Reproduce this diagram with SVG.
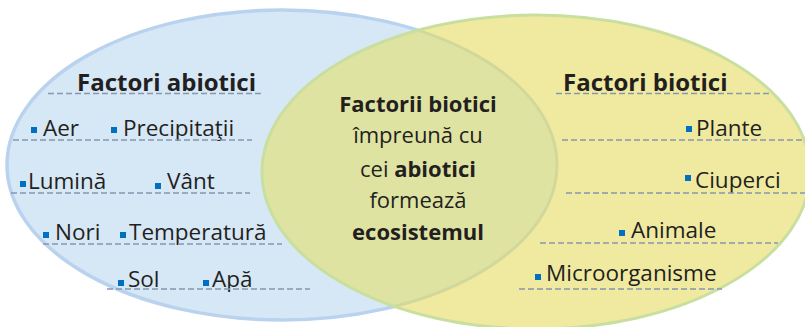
<svg xmlns="http://www.w3.org/2000/svg" width="805" height="327" viewBox="0 0 805 327">
<style>
.t{font-family:"Open Sans","Liberation Sans",sans-serif;fill:#231f20;font-size:22.5px}
.h{font-family:"Open Sans","Liberation Sans",sans-serif;fill:#231f20;font-size:24px;font-weight:bold}
.c{font-family:"Open Sans","Liberation Sans",sans-serif;fill:#231f20;font-size:22px;text-anchor:middle}
.b{font-weight:bold}
.d{stroke:#8797b0;stroke-width:1.3;stroke-dasharray:6 3;fill:none}
.q{fill:#0070c0}
</style>
<defs>
<clipPath id="yc"><ellipse cx="536" cy="172" rx="274" ry="157"/></clipPath>
</defs>
<g id="circles">
<ellipse id="abiotic-area" cx="282" cy="165" rx="275" ry="155" fill="#d6e7f6" stroke="#b9d3ee" stroke-width="3.5"/>
<ellipse id="biotic-area" cx="536" cy="172" rx="274" ry="157" fill="#f0eaa0"/>
<ellipse id="overlap" cx="282" cy="165" rx="275" ry="155" fill="#dfe3a1" stroke="#d2d89a" stroke-width="3" clip-path="url(#yc)"/>
<ellipse cx="536" cy="172" rx="274" ry="157" fill="none" stroke="#c9df9f" stroke-width="3"/>
</g>
<g id="abiotic">
<text class="h" x="77" y="91">Factori abiotici</text>
<line class="d" x1="48" y1="93.5" x2="263" y2="93.5"/>
<g id="aer"><rect class="q" x="31" y="127" width="6" height="6"/><text class="t" x="43" y="136">Aer</text></g>
<g id="precipitatii"><rect class="q" x="111" y="127" width="6" height="6"/><text class="t" x="123" y="136">Precipitaţii</text></g>
<line class="d" x1="13" y1="140" x2="252" y2="140"/>
<g id="lumina"><rect class="q" x="20" y="181" width="6" height="6"/><text class="t" x="28" y="189">Lumină</text></g>
<g id="vant"><rect class="q" x="155" y="183" width="6" height="6"/><text class="t" x="167" y="189">Vânt</text></g>
<line class="d" x1="11" y1="193" x2="250" y2="193"/>
<g id="nori"><rect class="q" x="43" y="232" width="6" height="6"/><text class="t" x="55" y="240">Nori</text></g>
<g id="temperatura"><rect class="q" x="120" y="232" width="6" height="6"/><text class="t" x="129" y="240">Temperatură</text></g>
<line class="d" x1="43" y1="244" x2="282" y2="244"/>
<g id="sol"><rect class="q" x="118" y="280" width="6" height="6"/><text class="t" x="128" y="287">Sol</text></g>
<g id="apa"><rect class="q" x="203" y="280" width="6" height="6"/><text class="t" x="212" y="287">Apă</text></g>
<line class="d" x1="107" y1="289" x2="310" y2="289"/>
</g>
<g id="biotic">
<text class="h" x="563" y="91">Factori biotici</text>
<line class="d" x1="556" y1="93.5" x2="770" y2="93.5"/>
<g id="plante"><rect class="q" x="686" y="126" width="6" height="6"/><text class="t" x="696" y="136">Plante</text></g>
<line class="d" x1="562" y1="140" x2="805" y2="140"/>
<g id="ciuperci"><rect class="q" x="685" y="175" width="6" height="6"/><text class="t" x="695" y="188">Ciuperci</text></g>
<line class="d" x1="566" y1="193" x2="805" y2="193"/>
<g id="animale"><rect class="q" x="619" y="230" width="6" height="6"/><text class="t" x="631" y="238">Animale</text></g>
<line class="d" x1="540" y1="243" x2="778" y2="243"/>
<g id="microorganisme"><rect class="q" x="535" y="274" width="6" height="6"/><text class="t" x="546" y="281">Microorganisme</text></g>
<line class="d" x1="519" y1="289" x2="722" y2="289"/>
</g>
<g id="center">
<text class="c b" x="418" y="112">Factorii biotici</text>
<text class="c" x="418" y="143">împreună cu</text>
<text class="c" x="418" y="177">cei <tspan class="b">abiotici</tspan></text>
<text class="c" x="418" y="208">formează</text>
<text class="c b" x="418" y="240">ecosistemul</text>
</g>
</svg>
